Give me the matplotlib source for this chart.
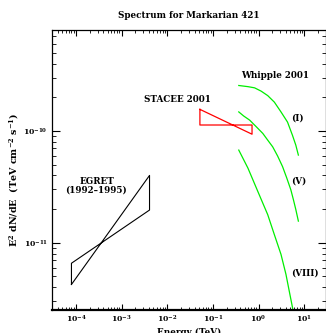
import matplotlib
matplotlib.use("Agg")
import matplotlib.pyplot as plt
from matplotlib.ticker import LogLocator, NullFormatter, FixedLocator

plt.rcParams['font.family'] = ['DejaVu Serif']
plt.rcParams['mathtext.fontset'] = 'dejavuserif'

# EGRET bowtie (E in TeV, E^2 dN/dE)
egret_E = [8e-5, 4.1e-3, 4.1e-3, 8e-5, 8e-5]
egret_F = [4.23e-12, 4.0e-11, 1.96e-11, 6.55e-12, 4.23e-12]

# STACEE 2001 bowtie
stacee_E = [0.052, 0.72, 0.72, 0.052, 0.052]
stacee_F = [1.56e-10, 9.35e-11, 1.13e-10, 1.13e-10, 1.56e-10]

# Whipple 2001 spectra
whip_I_E = [0.369, 0.587, 0.819, 1.14, 1.59, 2.22, 3.10, 4.31, 5.52, 6.55, 7.45]
whip_I_F = [2.55e-10, 2.49e-10, 2.43e-10, 2.27e-10, 2.07e-10, 1.81e-10,
            1.48e-10, 1.20e-10, 9.16e-11, 7.46e-11, 6.08e-11]
whip_V_E = [0.369, 0.473, 0.638, 0.892, 1.24, 1.59, 2.04, 2.62, 3.36, 4.14,
            5.10, 5.81, 6.55, 7.45]
whip_V_F = [1.48e-10, 1.36e-10, 1.25e-10, 1.09e-10, 9.5e-11, 8.27e-11, 7.21e-11,
            5.96e-11, 4.79e-11, 3.80e-11, 2.97e-11, 2.42e-11, 1.98e-11, 1.56e-11]
whip_VIII_E = [0.369, 0.587, 0.966, 1.59, 2.22, 3.10, 3.98, 4.69, 5.52, 5.88]
whip_VIII_F = [6.74e-11, 4.64e-11, 2.87e-11, 1.78e-11, 1.18e-11, 7.87e-12,
               5.22e-12, 3.71e-12, 2.65e-12, 2.2e-12]

x_ticks = [1e-4, 1e-3, 1e-2, 1e-1, 1e0, 1e1]
y_ticks = [1e-11, 1e-10]

W, H = 326, 333
fig = plt.figure(figsize=(W / 100, H / 100), dpi=100)
ax = fig.add_axes([52 / W, 1 - 310 / H, (326 - 52) / W, (310 - 30) / H])

ax.plot(egret_E, egret_F, color='black', lw=0.8)
ax.plot(stacee_E, stacee_F, color='red', lw=0.9)
for e, f in [(whip_I_E, whip_I_F), (whip_V_E, whip_V_F), (whip_VIII_E, whip_VIII_F)]:
    ax.plot(e, f, color='#00ee00', lw=0.9)

ax.set_xscale('log')
ax.set_yscale('log')
ax.set_xlim(3e-5, 3e1)
ax.set_ylim(2.5e-12, 8e-10)

ax.xaxis.set_major_locator(FixedLocator(x_ticks))
ax.xaxis.set_minor_locator(LogLocator(base=10, subs=range(2, 10), numticks=100))
ax.xaxis.set_minor_formatter(NullFormatter())
ax.yaxis.set_major_locator(FixedLocator(y_ticks))
ax.yaxis.set_minor_locator(LogLocator(base=10, subs=range(2, 10), numticks=100))
ax.yaxis.set_minor_formatter(NullFormatter())

ax.tick_params(which='both', direction='in', top=True, right=True, labelsize=5.5, pad=3)
ax.tick_params(axis='x', which='major', length=4, width=0.8)
ax.tick_params(axis='x', which='minor', length=2, width=0.6)
ax.tick_params(axis='y', which='major', length=6, width=0.8)
ax.tick_params(axis='y', which='minor', length=3, width=0.6)
for s in ax.spines.values():
    s.set_linewidth(0.9)
ax.spines['bottom'].set_linewidth(1.6)

for lab in ax.get_xticklabels() + ax.get_yticklabels():
    lab.set_fontweight('bold')

fs = 6.3
ax.set_title('Spectrum for Markarian 421', fontsize=fs, fontweight='bold', pad=9)
ax.set_xlabel('Energy (TeV)', fontsize=fs, fontweight='bold', labelpad=2)
fig.text(14.5 / W, 1 - 180 / H,
         r'E$^{\mathbf{2}}$ dN/dE  (TeV cm$^{-\mathbf{2}}$ s$^{-\mathbf{1}}$)',
         fontsize=6.8, fontweight='bold', rotation=90, ha='center', va='center')

def label(x, y, s):
    fig.text(x / W, 1 - y / H, s, fontsize=fs, fontweight='bold', ha='center', va='center')

label(275, 76, 'Whipple 2001')
label(177, 99, 'STACEE 2001')
label(297, 118, '(I)')
label(299, 181, '(V)')
label(305, 273, '(VIII)')
label(97, 181, 'EGRET')
label(96, 190, '(1992\u20131995)')

fig.savefig('out.png', dpi=100)
